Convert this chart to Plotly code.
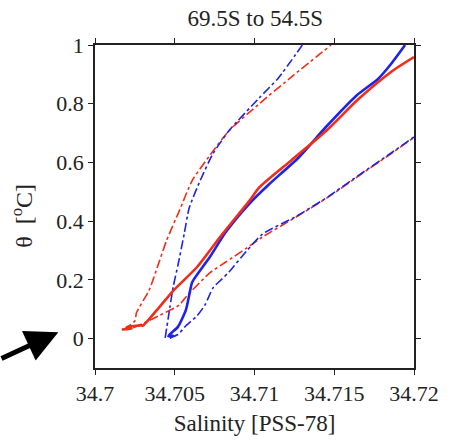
import plotly.graph_objects as go

# Potential temperature vs salinity profiles, 69.5S to 54.5S
red_solid_s = [34.70168, 34.70230, 34.70200, 34.70290, 34.70300, 34.70400, 34.70490, 34.70640,
               34.70790, 34.70970, 34.71030, 34.71230, 34.71450, 34.71650, 34.71860, 34.72000]
red_solid_t = [0.031, 0.034, 0.040, 0.045, 0.044, 0.105, 0.163, 0.244,
               0.350, 0.471, 0.515, 0.607, 0.708, 0.815, 0.910, 0.959]

blue_solid_s = [34.70468, 34.70490, 34.70460, 34.70480, 34.70520, 34.70570, 34.70595, 34.70610,
                34.70720, 34.70820, 34.70970, 34.71090, 34.71277, 34.71445, 34.71640, 34.71776,
                34.71857, 34.71944]
blue_solid_t = [0.003, 0.010, 0.008, 0.020, 0.040, 0.098, 0.160, 0.193,
                0.278, 0.363, 0.461, 0.525, 0.617, 0.719, 0.828, 0.885,
                0.936, 1.000]

red_dd_left_s = [34.70180, 34.70250, 34.70260, 34.70340, 34.70400, 34.70450, 34.70530,
                 34.70610, 34.70720, 34.70840, 34.71030, 34.71240, 34.71480]
red_dd_left_t = [0.031, 0.060, 0.088, 0.166, 0.258, 0.336, 0.437,
                 0.539, 0.624, 0.708, 0.800, 0.895, 1.000]

blue_dd_left_s = [34.70440, 34.70470, 34.70490, 34.70520, 34.70560, 34.70590, 34.70660,
                  34.70740, 34.70840, 34.71030, 34.71150, 34.71300]
blue_dd_left_t = [0.003, 0.108, 0.176, 0.250, 0.359, 0.444, 0.539,
                  0.630, 0.708, 0.820, 0.888, 1.000]

red_dd_right_s = [34.70240, 34.70310, 34.70400, 34.70530, 34.70570, 34.70720, 34.70820,
                  34.70950, 34.71050, 34.71260, 34.71460, 34.71650, 34.71830, 34.72000]
red_dd_right_t = [0.037, 0.054, 0.078, 0.115, 0.142, 0.224, 0.261,
                  0.308, 0.346, 0.414, 0.481, 0.553, 0.620, 0.685]

blue_dd_right_s = [34.70470, 34.70520, 34.70570, 34.70640, 34.70690, 34.70740, 34.70790,
                   34.70840, 34.70950, 34.71050, 34.71260, 34.71460, 34.71650, 34.71830,
                   34.72000]
blue_dd_right_t = [0.003, 0.014, 0.044, 0.078, 0.115, 0.173, 0.200,
                   0.227, 0.298, 0.356, 0.416, 0.483, 0.555, 0.622,
                   0.687]

x_ticks = [34.7, 34.705, 34.71, 34.715, 34.72]
y_ticks = [0, 0.2, 0.4, 0.6, 0.8, 1]

RED = "rgb(240,45,25)"
BLUE = "rgb(30,35,230)"

fig = go.Figure()

def add(s, t, color, dash, width):
    fig.add_trace(go.Scatter(x=s, y=t, mode="lines",
                             line=dict(color=color, dash=dash, width=width,
                                       shape="spline", smoothing=0.6),
                             showlegend=False, hoverinfo="skip"))

add(red_dd_left_s, red_dd_left_t, RED, "dashdot", 1.6)
add(red_dd_right_s, red_dd_right_t, RED, "dashdot", 1.6)
add(blue_dd_left_s, blue_dd_left_t, BLUE, "dashdot", 1.6)
add(blue_dd_right_s, blue_dd_right_t, BLUE, "dashdot", 1.6)
add(blue_solid_s, blue_solid_t, BLUE, "solid", 2.6)
add(red_solid_s, red_solid_t, RED, "solid", 2.6)

FONT = "Liberation Serif"

fig.update_layout(
    width=451, height=445,
    margin=dict(l=95, r=35, t=45, b=77),
    paper_bgcolor="white", plot_bgcolor="white",
    font=dict(family=FONT, size=22, color="#222"),
    title=dict(text="69.5S to 54.5S", x=0.566, xanchor="center",
               y=0.96, yanchor="middle", font=dict(family=FONT, size=23, color="#222")),
    xaxis=dict(range=[34.7, 34.72], tickvals=x_ticks, showgrid=False, zeroline=False,
               showline=True, linecolor="#222", linewidth=1.5, mirror="ticks",
               ticks="outside", ticklen=5, tickcolor="#222", tickwidth=1,
               tickfont=dict(family=FONT, size=22),
               title=dict(text="Salinity [PSS-78]", standoff=10,
                          font=dict(family=FONT, size=23))),
    yaxis=dict(range=[-0.1, 1.0], tickvals=y_ticks, showgrid=False, zeroline=False,
               showline=True, linecolor="#222", linewidth=1.5, mirror="ticks",
               ticks="outside", ticklen=5, tickcolor="#222", tickwidth=1,
               tickfont=dict(family=FONT, size=22)),
)

# Vertical axis label
fig.add_annotation(xref="paper", yref="paper", x=-0.227, y=0.47,
                   text="θ  [<sup>o</sup>C]", textangle=-90, showarrow=False,
                   font=dict(family=FONT, size=24, color="#222"),
                   xanchor="center", yanchor="middle")

# Black arrow pointing at the θ = 0 level
fig.add_annotation(xref="paper", yref="paper", x=-0.115, y=0.111,
                   ax=-60, ay=27, text="", showarrow=True,
                   arrowhead=2, arrowsize=1.3, arrowwidth=5, arrowcolor="black",
                   standoff=0)

fig.write_html("out.html")
